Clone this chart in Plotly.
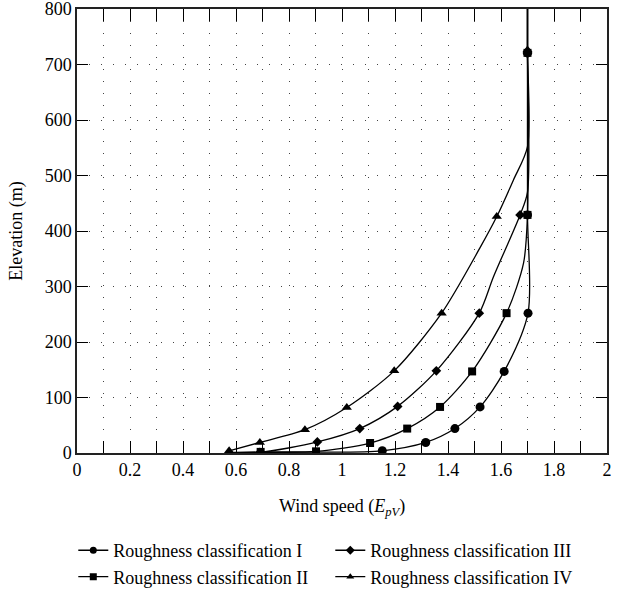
import plotly.graph_objects as go

# ---- data ----
# marker points (wind speed, elevation)
speed_I = [1.152, 1.316, 1.426, 1.521, 1.612, 1.702, 1.700, 1.700]
elev_I = [4, 19, 44, 83, 147, 252, 429, 721]
speed_II = [0.693, 0.902, 1.106, 1.246, 1.370, 1.491, 1.621, 1.700, 1.700]
elev_II = [2, 3, 18, 44, 83, 147, 252, 429, 721]
speed_III = [0.690, 0.907, 1.067, 1.210, 1.356, 1.518, 1.672, 1.700]
elev_III = [1, 20, 44, 84, 148, 252, 429, 720]
speed_IV = [0.574, 0.690, 0.860, 1.018, 1.197, 1.376, 1.584, 1.700]
elev_IV = [4, 19, 42, 82, 148, 252, 426, 726]

# curve traces (marker points plus extra points)
line_speed_I = [0.56, 0.90, 1.152, 1.316, 1.426, 1.521, 1.612, 1.702, 1.700, 1.700, 1.700]
line_elev_I = [0.5, 1.5, 4, 19, 44, 83, 147, 252, 429, 723, 800]
line_speed_II = [0.56, 0.693, 0.902, 1.106, 1.246, 1.370, 1.491, 1.621, 1.685, 1.700, 1.700, 1.700]
line_elev_II = [0.5, 2, 3, 18, 44, 83, 147, 252, 342, 429, 723, 800]
line_speed_III = [0.56, 0.690, 0.907, 1.067, 1.210, 1.356, 1.518, 1.572, 1.672, 1.700, 1.700, 1.700]
line_elev_III = [0.5, 1, 20, 44, 84, 148, 252, 318, 429, 470, 723, 800]
line_speed_IV = [0.574, 0.690, 0.860, 1.018, 1.197, 1.376, 1.521, 1.584, 1.647, 1.700, 1.700, 1.700]
line_elev_IV = [4, 19, 42, 82, 148, 252, 370, 426, 492, 552, 723, 800]

names = ["Roughness classification I", "Roughness classification II",
         "Roughness classification III", "Roughness classification IV"]
symbols = ["circle", "square", "diamond", "triangle-up"]
marker_sizes = [9, 8, 7.5, 9]

series = [
    (line_speed_I, line_elev_I, speed_I, elev_I),
    (line_speed_II, line_elev_II, speed_II, elev_II),
    (line_speed_III, line_elev_III, speed_III, elev_III),
    (line_speed_IV, line_elev_IV, speed_IV, elev_IV),
]

FONT = "Liberation Serif, serif"
fig = go.Figure()

for i, (lx, ly, mx, my) in enumerate(series):
    fig.add_trace(go.Scatter(x=lx, y=ly, mode="lines",
                             line=dict(color="black", width=1.3, shape="spline", smoothing=0.8),
                             showlegend=False, hoverinfo="skip"))
    fig.add_trace(go.Scatter(x=mx, y=my, mode="markers",
                             marker=dict(symbol=symbols[i], size=marker_sizes[i], color="black"),
                             showlegend=False))

# legend entries (order fills rows: I, III / II, IV)
for i in [0, 2, 1, 3]:
    fig.add_trace(go.Scatter(x=[None], y=[None], mode="lines+markers", name=names[i],
                             line=dict(color="black", width=1.3),
                             marker=dict(symbol=symbols[i], size=7, color="black")))

grid_dash = "1px,11px"
fig.update_xaxes(range=[0, 2], dtick=0.2, tick0=0, tickformat="~g",
                 ticks="inside", ticklen=12, tickwidth=1.3, tickcolor="black",
                 showline=True, linecolor="#222", linewidth=1.5, mirror="ticks",
                 showgrid=True, gridcolor="#444", gridwidth=1, griddash=grid_dash,
                 zeroline=False, automargin=False, ticklabeloverflow="allow",
                 minor=dict(dtick=0.1, ticks="inside", ticklen=12, tickwidth=1.3, tickcolor="black",
                            showgrid=True, gridcolor="#444", gridwidth=1, griddash=grid_dash),
                 title=dict(text="Wind speed (<i>E</i><sub><i>pV</i></sub>)", standoff=20,
                            font=dict(family=FONT, size=18, color="black")),
                 tickfont=dict(family=FONT, size=18, color="black"))
fig.update_yaxes(range=[0, 800], dtick=100, tick0=0,
                 ticks="inside", ticklen=11, tickwidth=1.3, tickcolor="black",
                 showline=True, linecolor="#222", linewidth=1.5, mirror="ticks",
                 showgrid=True, gridcolor="#444", gridwidth=1, griddash=grid_dash,
                 zeroline=False, automargin=False, ticklabeloverflow="allow",
                 title=dict(text="Elevation (m)", standoff=17,
                            font=dict(family=FONT, size=18, color="black")),
                 tickfont=dict(family=FONT, size=18, color="black"))

fig.update_layout(
    width=636, height=630,
    margin=dict(l=77, r=29, t=9, b=177),
    plot_bgcolor="white", paper_bgcolor="white",
    font=dict(family=FONT, size=18, color="black"),
    legend=dict(orientation="h", x=-0.007, xanchor="left", y=-0.178, yanchor="top",
                entrywidth=212, entrywidthmode="pixels", tracegroupgap=0,
                font=dict(family=FONT, size=18, color="black"),
                bgcolor="rgba(0,0,0,0)", itemwidth=30),
)

fig.write_html("out.html", config={"displayModeBar": False},
               post_script="document.body.style.margin='0';")
